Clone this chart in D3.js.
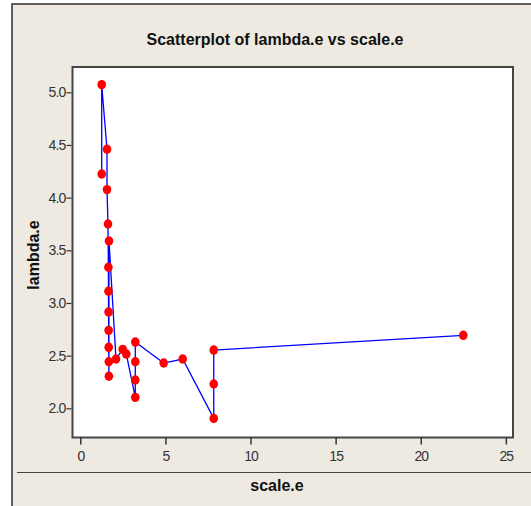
<!DOCTYPE html>
<html>
<head>
<meta charset="utf-8">
<script src="https://cdn.jsdelivr.net/npm/d3@7"></script>
<style>
  html, body { margin: 0; padding: 0; background: #ffffff; }
  svg { display: block; }
</style>
</head>
<body>
<svg id="chart" width="531" height="506"></svg>
<script>
// ---- data (path order, as drawn by the connect line) ----
const scaleE  = [1.257, 1.257, 1.569, 1.569, 1.627, 1.650, 1.655, 1.660, 1.665, 1.670, 1.675, 1.680, 1.686, 2.098, 2.491, 2.703, 3.231, 3.231, 3.231, 3.231, 4.900, 6.016, 7.840, 7.840, 7.840, 22.50];
const lambdaE = [4.224, 5.072, 4.459, 4.076, 3.750, 3.339, 3.111, 2.914, 2.740, 2.579, 2.442, 2.304, 3.588, 2.468, 2.560, 2.515, 2.104, 2.269, 2.442, 2.629, 2.430, 2.468, 1.905, 2.231, 2.553, 2.693];
const xTicks = [0, 5, 10, 15, 20, 25];
const yTicks = [2.0, 2.5, 3.0, 3.5, 4.0, 4.5, 5.0];
const titleText = "Scatterplot of lambda.e vs scale.e";
const xLabel = "scale.e";
const yLabel = "lambda.e";

const data = scaleE.map((x, i) => ({ x: x, y: lambdaE[i] }));

const svg = d3.select("#chart");
const W = 531, H = 506;
const plot = { left: 72.5, right: 513, top: 67, bottom: 437.5 };

// outer graph frame
svg.append("rect").attr("x", 12).attr("y", 4).attr("width", W).attr("height", H)
  .attr("fill", "#eeeae1").attr("stroke", "#3a3a3a").attr("stroke-width", 1.6);

// scales
const x = d3.scaleLinear().domain([-0.458, 25.42]).range([plot.left, plot.right]);
const y = d3.scaleLinear().domain([1.723, 5.24]).range([plot.bottom, plot.top]);

// data region
svg.append("rect")
  .attr("x", plot.left).attr("y", plot.top)
  .attr("width", plot.right - plot.left).attr("height", plot.bottom - plot.top)
  .attr("fill", "#ffffff").attr("stroke", "#454545").attr("stroke-width", 2);

// axes
const yAxis = d3.axisLeft(y).tickValues(yTicks).tickFormat(d3.format(".1f")).tickSize(5).tickPadding(1);
const gy = svg.append("g").attr("transform", `translate(${plot.left - 1},0)`).call(yAxis);
gy.select(".domain").remove();
gy.selectAll(".tick line").attr("stroke", "#333").attr("stroke-width", 1.2);
gy.selectAll(".tick text").attr("fill", "#333").style("font-family", "Liberation Sans, Arial, sans-serif")
  .style("font-size", "14px").style("letter-spacing", "-0.8px");

const xAxis = d3.axisBottom(x).tickValues(xTicks).tickFormat(d3.format("d")).tickSize(7).tickPadding(7);
const gx = svg.append("g").attr("transform", `translate(0,${plot.bottom})`).call(xAxis);
gx.select(".domain").remove();
gx.selectAll(".tick line").attr("stroke", "#333").attr("stroke-width", 1.5);
gx.selectAll(".tick text").attr("fill", "#333").style("font-family", "Liberation Sans, Arial, sans-serif")
  .style("font-size", "14px").style("letter-spacing", "-1px");

// separator line above x title
svg.append("line").attr("x1", 17).attr("x2", W).attr("y1", 472.5).attr("y2", 472.5)
  .attr("stroke", "#444").attr("stroke-width", 1);

// titles
const tf = "Liberation Sans, Arial, sans-serif";
svg.append("text").attr("x", 275).attr("y", 45).attr("text-anchor", "middle")
  .style("font-family", tf).style("font-weight", "bold").style("font-size", "16px")
  .attr("fill", "#111").text(titleText);

svg.append("text").attr("x", 277).attr("y", 491).attr("text-anchor", "middle")
  .style("font-family", tf).style("font-weight", "bold").style("font-size", "16px")
  .attr("fill", "#111").text(xLabel);

svg.append("text").attr("transform", "translate(39,255) rotate(-90)").attr("text-anchor", "middle")
  .style("font-family", tf).style("font-weight", "bold").style("font-size", "16px")
  .attr("fill", "#111").text(yLabel);

// connect line
const line = d3.line().x(d => x(d.x)).y(d => y(d.y));
svg.append("path").datum(data).attr("d", line)
  .attr("fill", "none").attr("stroke", "#0000ff").attr("stroke-width", 1.3);

// points
svg.append("g").selectAll("ellipse").data(data).join("ellipse")
  .attr("cx", d => x(d.x)).attr("cy", d => y(d.y))
  .attr("rx", 4.3).attr("ry", 4.7)
  .attr("fill", "#ff0000");
</script>
</body>
</html>
